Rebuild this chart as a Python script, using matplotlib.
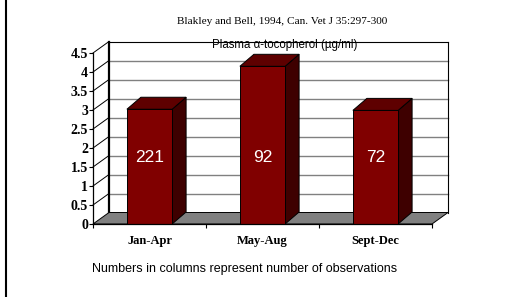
import matplotlib
matplotlib.use("Agg")
import matplotlib.pyplot as plt
from matplotlib.patches import Polygon, Rectangle
from matplotlib.lines import Line2D

# data
categories = ["Jan-Apr", "May-Aug", "Sept-Dec"]
tocopherol = [3.02, 4.15, 2.99]
n_obs = [221, 92, 72]
y_ticks = [0, 0.5, 1, 1.5, 2, 2.5, 3, 3.5, 4, 4.5]
y_labels = ["0", "0.5", "1", "1.5", "2", "2.5", "3", "3.5", "4", "4.5"]

W, H = 507, 297
fig = plt.figure(figsize=(W / 100, H / 100), dpi=100)
fig.patch.set_facecolor("white")

# front plane of the 3d box
ax = fig.add_axes([93 / W, 1 - 224 / H, 339 / W, 171 / H])
ymax = 4.5
ax.set_xlim(0, len(categories))
ax.set_ylim(0, ymax)
ax.patch.set_visible(False)

# depth offsets (pixels -> data units)
px_x = len(categories) / 339
px_y = ymax / 171
wall_dx, wall_dy = 16 * px_x, 11.5 * px_y
bar_dx, bar_dy = 14 * px_x, 12 * px_y
nc = len(categories)

# back wall
ax.add_patch(Rectangle((wall_dx, wall_dy), nc, ymax, facecolor="white",
                       edgecolor="none", zorder=0, clip_on=False))
for v in y_ticks[1:-1]:
    ax.add_line(Line2D([wall_dx, nc + wall_dx], [v + wall_dy, v + wall_dy],
                       color="#808080", lw=1.0, zorder=1, clip_on=False))
ax.add_line(Line2D([wall_dx, nc + wall_dx], [ymax + wall_dy, ymax + wall_dy],
                   color="black", lw=0.8, zorder=1, clip_on=False))
ax.add_line(Line2D([nc + wall_dx, nc + wall_dx], [wall_dy, ymax + wall_dy],
                   color="black", lw=0.8, zorder=1, clip_on=False))
ax.add_line(Line2D([wall_dx, wall_dx], [wall_dy, ymax + wall_dy],
                   color="black", lw=1.6, zorder=2, clip_on=False))
# side wall lines
for v in y_ticks[1:]:
    ax.add_line(Line2D([0, wall_dx], [v, v + wall_dy],
                       color="black", lw=0.7, zorder=1, clip_on=False))

# floor
ax.add_patch(Polygon([(0, 0), (nc, 0), (nc + wall_dx, wall_dy), (wall_dx, wall_dy)],
                     closed=True, facecolor="#808080", edgecolor="black",
                     lw=0.7, zorder=2, clip_on=False))

# bars
bw = 0.4
for i, (v, n) in enumerate(zip(tocopherol, n_obs)):
    x0 = i + 0.5 - bw / 2
    x1 = x0 + bw
    ax.add_patch(Polygon([(x1, 0), (x1 + bar_dx, bar_dy), (x1 + bar_dx, v + bar_dy), (x1, v)],
                         closed=True, facecolor="#3e0000", edgecolor="black",
                         lw=0.7, zorder=3, clip_on=False))
    ax.add_patch(Polygon([(x0, v), (x1, v), (x1 + bar_dx, v + bar_dy), (x0 + bar_dx, v + bar_dy)],
                         closed=True, facecolor="#5e0000", edgecolor="black",
                         lw=0.7, zorder=3, clip_on=False))
    ax.add_patch(Rectangle((x0, 0), bw, v, facecolor="#800000",
                           edgecolor="black", lw=0.7, zorder=4, clip_on=False))
    ax.text(i + 0.5, 1.75, str(n), color="white", fontsize=12.5,
            family="Liberation Sans", ha="center", va="center", zorder=5)

# axes
for s in ["top", "right"]:
    ax.spines[s].set_visible(False)
ax.spines["left"].set_linewidth(0.9)
ax.spines["bottom"].set_linewidth(0.9)
ax.spines["left"].set_zorder(6)
ax.spines["bottom"].set_zorder(6)
ax.set_yticks(y_ticks)
ax.set_yticklabels(y_labels, family="Liberation Serif", fontweight="bold", fontsize=10)
ax.tick_params(axis="y", length=3, width=0.8, pad=0.5)
ax.set_xticks(range(nc + 1))
ax.set_xticklabels([""] * (nc + 1))
ax.tick_params(axis="x", which="major", length=3, width=0.8)
ax.set_xticks([i + 0.5 for i in range(nc)], minor=True)
ax.set_xticklabels(categories, minor=True, family="Liberation Serif",
                   fontweight="bold", fontsize=9)
ax.tick_params(axis="x", which="minor", length=0, pad=8)

fig.text(282 / W, 1 - 21 / H, "Blakley and Bell, 1994, Can. Vet J 35:297-300",
         family="Liberation Serif", fontsize=8.1, ha="center", va="center")
fig.text(285 / W, 1 - 45 / H, "Plasma \u03b1-tocopherol (\u00b5g/ml)",
         family="Liberation Sans", fontsize=8.3, ha="center", va="center")
fig.text(245 / W, 1 - 269 / H, "Numbers in columns represent number of observations",
         family="Liberation Sans", fontsize=9, ha="center", va="center")

fig.add_artist(Line2D([5.5 / W, 5.5 / W], [0, 1], color="black", lw=1.5,
                      transform=fig.transFigure))

fig.savefig("out.png", dpi=100)
